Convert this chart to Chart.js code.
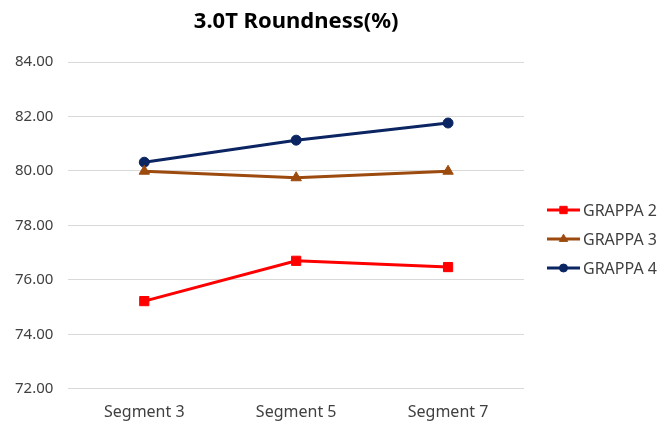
<!DOCTYPE html>
<html>
<head>
<meta charset="utf-8">
<script src="https://cdn.jsdelivr.net/npm/chart.js@4/dist/chart.umd.min.js"></script>
<style>
  html, body { margin: 0; padding: 0; background: #fff; }
  #wrap { width: 669px; height: 421px; }
</style>
</head>
<body>
<div id="wrap"><canvas id="chart"></canvas></div>
<script>
// данные графика
const segments = ['Segment 3', 'Segment 5', 'Segment 7'];
const grappa2 = [75.22, 76.70, 76.47];
const grappa3 = [79.99, 79.75, 79.99];
const grappa4 = [80.32, 81.13, 81.76];
const seriesNames = ['GRAPPA 2', 'GRAPPA 3', 'GRAPPA 4'];
const chartTitle = '3.0T Roundness(%)';

const FONT = "'Noto Sans', 'Open Sans', sans-serif";

// заголовок по центру области графика
const centerTitle = {
    id: 'centerTitle',
    afterDraw(chart) {
        const { ctx, chartArea } = chart;
        ctx.save();
        ctx.font = 'bold 22px ' + FONT;
        ctx.fillStyle = '#000';
        ctx.textAlign = 'center';
        ctx.textBaseline = 'middle';
        ctx.fillText(chartTitle, (chartArea.left + chartArea.right) / 2, 22);
        ctx.restore();
    }
};

// легенда справа: линия с маркером + подпись
const sideLegend = {
    id: 'sideLegend',
    afterDraw(chart) {
        const { ctx, chartArea } = chart;
        const x0 = chartArea.right + 23;
        const yStart = 210;
        const step = 29;
        ctx.save();
        chart.data.datasets.forEach((ds, i) => {
            const y = yStart + i * step;
            ctx.strokeStyle = ds.borderColor;
            ctx.lineWidth = ds.borderWidth;
            ctx.beginPath();
            ctx.moveTo(x0, y);
            ctx.lineTo(x0 + 33, y);
            ctx.stroke();
            ctx.fillStyle = ds.pointBackgroundColor;
            ctx.strokeStyle = ds.pointBorderColor;
            ctx.lineWidth = 1;
            Chart.helpers.drawPoint(ctx, {
                pointStyle: ds.pointStyle,
                radius: ds.pointRadius * 0.8,
                rotation: 0,
                borderWidth: 1
            }, x0 + 16.5, y);
            ctx.font = '16px ' + FONT;
            ctx.fillStyle = '#404040';
            ctx.textAlign = 'left';
            ctx.textBaseline = 'middle';
            ctx.fillText(ds.label, x0 + 36, y + 1);
        });
        ctx.restore();
    }
};

function lineSet(label, data, color, style, radius) {
    return {
        label: label,
        data: data,
        borderColor: color,
        backgroundColor: color,
        pointBackgroundColor: color,
        pointBorderColor: color,
        borderWidth: 3,
        pointStyle: style,
        pointRadius: radius,
        pointBorderWidth: 1,
        tension: 0,
        fill: false
    };
}

new Chart(document.getElementById('chart').getContext('2d'), {
    type: 'line',
    data: {
        labels: segments,
        datasets: [
            lineSet(seriesNames[0], grappa2, '#FF0000', 'rect', 6.5),
            lineSet(seriesNames[1], grappa3, '#9C4A0E', 'triangle', 6),
            lineSet(seriesNames[2], grappa4, '#0B2462', 'circle', 5)
        ]
    },
    options: {
        responsive: true,
        maintainAspectRatio: false,
        animation: false,
        layout: {
            padding: { top: 62, right: 145, bottom: -15, left: 0 }
        },
        plugins: {
            legend: { display: false },
            title: { display: false },
            tooltip: { enabled: false }
        },
        scales: {
            x: {
                offset: true,
                grid: { display: false, drawTicks: false },
                border: { display: false },
                ticks: {
                    padding: 14,
                    color: '#404040',
                    font: { family: FONT, size: 16 }
                }
            },
            y: {
                min: 72,
                max: 84,
                grid: { color: '#D9D9D9', lineWidth: 1, drawTicks: false },
                border: { display: false },
                ticks: {
                    stepSize: 2,
                    padding: 15,
                    color: '#404040',
                    font: { family: FONT, size: 15 },
                    callback: v => v.toFixed(2)
                }
            }
        }
    },
    plugins: [centerTitle, sideLegend]
});
</script>
</body>
</html>
